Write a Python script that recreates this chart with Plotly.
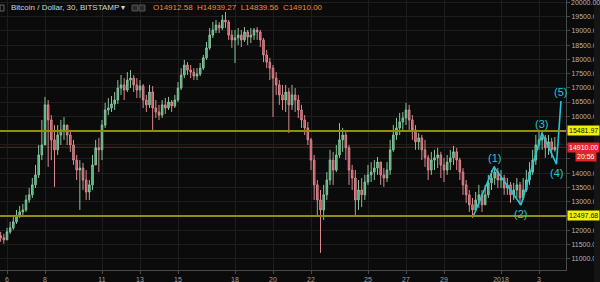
import plotly.graph_objects as go
import pandas as pd

# 4-hour candles (prices in USD)
start_time = "2017-12-05 16:00"
closes = [11730, 11660, 11940, 12080, 12290, 12530, 12640, 12710, 13060, 13240,
          13590, 13940, 14640, 14990, 16400, 15870, 15170, 14820, 15340, 15520,
          15690, 15340, 14990, 14460, 14110, 14180, 13760, 13340, 13590, 14290,
          14890, 14820, 15690, 16220, 16290, 16430, 16570, 16990, 17100, 16920,
          17270, 17340, 17100, 16920, 17060, 16570, 16400, 16850, 16290, 16150,
          16040, 16400, 16290, 16500, 16360, 16570, 16990, 17450, 17800, 17620,
          17550, 17410, 17480, 17690, 18050, 18400, 18850, 19030, 19200, 19100,
          19380, 19310, 18850, 18680, 18750, 18850, 18680, 18960, 18780, 18850,
          19030, 18960, 18680, 18150, 17900, 17690, 17340, 17100, 16750, 16570,
          16850, 16400, 16750, 16570, 16220, 15870, 15590, 15170, 14460, 13590,
          13060, 12710, 13240, 13760, 14460, 14110, 14640, 15170, 15340, 14890,
          14110, 13830, 13060, 13410, 13240, 13690, 13940, 14040, 14180, 14390,
          13940, 13830, 14110, 14820, 15340, 15590, 15800, 15940, 16220, 15870,
          15520, 15100, 15240, 14820, 14540, 14110, 14460, 14540, 14640, 14290,
          14110, 14390, 14540, 14750, 14460, 14040, 13590, 13240, 12890, 12710,
          13060, 13240, 12890, 13240, 13660, 13830, 14040, 13760, 13830, 13480,
          13590, 13240, 13410, 13590, 13130, 13410, 13760, 14040, 14460, 14990,
          15170, 15240, 14890, 15100, 14820, 14910]
highs = [11940, 11870, 12080, 12290, 12460, 12710, 12850, 12920, 13240, 13480,
         13830, 14290, 14990, 15870, 16680, 16570, 16040, 15690, 15690, 15870,
         15970, 15690, 15520, 15170, 14640, 14460, 14360, 14110, 13760, 14640,
         15170, 15240, 15870, 16470, 16640, 16710, 16850, 17270, 17450, 17340,
         17550, 17620, 17450, 17340, 17270, 17130, 16750, 17100, 17060, 16570,
         16400, 16570, 16640, 16680, 16570, 16750, 17200, 17690, 17980, 17900,
         17800, 17690, 17690, 17870, 18150, 18610, 19100, 19310, 19380, 19310,
         19560, 19660, 19380, 19030, 19030, 19100, 19030, 19130, 19030, 19100,
         19100, 19130, 19030, 18750, 18330, 18050, 17800, 17550, 17270, 17100,
         17100, 16990, 17100, 16990, 16750, 16400, 16040, 15800, 15240, 14640,
         13760, 13410, 13590, 14040, 14820, 14750, 14990, 15760, 15590, 15520,
         14990, 14290, 14110, 13760, 13830, 13940, 14290, 14390, 14460, 14570,
         14390, 14180, 14390, 15170, 15690, 15940, 16120, 16150, 16470, 16400,
         16040, 15690, 15410, 15340, 15170, 14640, 14750, 14820, 14890, 14750,
         14540, 14640, 14820, 14960, 14890, 14540, 14180, 13760, 13410, 13130,
         13340, 13590, 13410, 13590, 13940, 14110, 14250, 14180, 14110, 13940,
         13830, 13690, 13660, 13830, 13690, 13830, 14110, 14390, 14820, 15340,
         15450, 15450, 15340, 15340, 15240, 15270]
lows = [11590, 11520, 11660, 11870, 12010, 12220, 12430, 12460, 12640, 12960,
        13130, 13480, 13830, 14460, 15170, 14220, 14460, 13520, 14640, 14990,
        15170, 14990, 14750, 14290, 13760, 12710, 13410, 13060, 13060, 13410,
        14290, 14040, 14460, 15590, 16040, 16150, 16220, 16430, 16750, 16570,
        16850, 16990, 16850, 16640, 16640, 16290, 16150, 16290, 15520, 15940,
        15870, 15940, 16080, 16220, 16150, 16290, 16500, 16920, 17340, 17450,
        17340, 17270, 17270, 17410, 17620, 17980, 18330, 18750, 18920, 18920,
        19030, 19100, 18680, 18400, 17870, 18500, 18430, 18610, 18500, 18570,
        18680, 18680, 18430, 17900, 17690, 17270, 15970, 16750, 16400, 16220,
        16150, 15410, 16220, 16150, 15940, 15590, 15340, 14990, 14110, 13060,
        12530, 11200, 12360, 13060, 13590, 13590, 14040, 14540, 14750, 14460,
        13590, 13410, 12530, 12710, 12810, 13060, 13590, 13690, 13760, 13940,
        13590, 13520, 13690, 13940, 14750, 15170, 15340, 15520, 15690, 15520,
        15170, 14820, 14820, 14460, 14220, 13760, 13940, 14110, 14180, 13830,
        13690, 13940, 14110, 14290, 14110, 13760, 13240, 12960, 12640, 12430,
        12640, 12780, 12640, 12890, 13130, 13410, 13590, 13480, 13480, 13240,
        13240, 12960, 13060, 13130, 12890, 13060, 13340, 13590, 13940, 14290,
        14820, 14820, 14540, 14640, 14540, 14750]
first_open = 11800

# Elliott wave drawing (time, price)
wave_times = ["2017-12-30 12:30", "2017-12-31 15:10", "2018-01-02 01:15",
              "2018-01-03 03:45", "2018-01-03 22:05", "2018-01-04 03:45"]
wave_prices = [12463, 14220, 12885, 15410, 14320, 16535]
wave_labels = ["", "(1)", "(2)", "(3)", "(4)", "(5)"]

# Horizontal levels
level_prices = [15481.97, 12497.68]
last_price = 14910.00
countdown = "20:56"

# Axis ticks
tick_dates = ["2017-12-06", "2017-12-08", "2017-12-11", "2017-12-13", "2017-12-15",
              "2017-12-18", "2017-12-20", "2017-12-22", "2017-12-25", "2017-12-27",
              "2017-12-29", "2018-01-01", "2018-01-03"]
tick_text = ["6", "8", "11", "13", "15", "18", "20", "22", "25", "27", "29", "2018", "3"]
price_ticks = [19500, 19000, 18500, 18000, 17500, 17000, 16500, 16000,
               14000, 13500, 13000, 12000, 11500, 11000]
top_tick = 20000

times = pd.date_range(start_time, periods=len(closes), freq="4h")
opens = [first_open] + closes[:-1]

BG = "#0b0b0b"
GRID = "#1e1e1e"
FONT = "Liberation Sans"

fig = go.Figure()
fig.add_trace(go.Candlestick(
    x=times, open=opens, high=highs, low=lows, close=closes,
    increasing=dict(line=dict(color="#86c49d", width=1), fillcolor="#3fae6e"),
    decreasing=dict(line=dict(color="#d98a8f", width=1), fillcolor="#d4434f"),
    whiskerwidth=0, showlegend=False, hoverinfo="skip",
))
fig.add_trace(go.Scatter(
    x=wave_times, y=wave_prices, mode="lines",
    line=dict(color="#22c6d8", width=1.6), showlegend=False, hoverinfo="skip",
))

shapes = []
shapes.append(dict(type="line", xref="paper", x0=0, x1=1, yref="y", y0=last_price, y1=last_price,
                   line=dict(color="#7a1a1a", width=1), layer="below"))
for lp in level_prices:
    shapes.append(dict(type="line", xref="paper", x0=0, x1=1, yref="y", y0=lp, y1=lp,
                       line=dict(color="#928d12", width=2), layer="above"))
# header icons
for x0 in (132, 139):
    shapes.append(dict(type="rect", xref="paper", yref="paper",
                       x0=x0 / 566, x1=(x0 + 6) / 566, y0=1 - 11 / 270, y1=1 - 5 / 270,
                       line=dict(color="#555555", width=1), fillcolor="#2a2a2a"))
shapes.append(dict(type="rect", xref="paper", yref="paper",
                   x0=0, x1=4 / 566, y0=1 - 11 / 270, y1=1 - 5 / 270,
                   line=dict(color="#666666", width=1)))
# right edge strip
shapes.append(dict(type="rect", xref="paper", yref="paper",
                   x0=594 / 566, x1=600 / 566, y0=-12 / 270, y1=1,
                   line=dict(width=0), fillcolor="#151515"))

ann = []
for t, p, lab in zip(wave_times, wave_prices, wave_labels):
    if not lab:
        continue
    up = lab in ("(1)", "(3)", "(5)")
    ann.append(dict(x=t, y=p, xref="x", yref="y", text=lab, showarrow=False,
                    yanchor="bottom" if up else "top", yshift=1 if up else -1,
                    font=dict(color="#22c6d8", size=11, family=FONT)))
for lp in level_prices:
    ann.append(dict(xref="paper", x=1, xanchor="left", xshift=1, yref="y", y=lp,
                    text=f"{lp:.2f}", showarrow=False, bgcolor="#f2f200",
                    font=dict(color="#111111", size=7, family=FONT), borderpad=1))
ann.append(dict(xref="paper", x=1, xanchor="left", xshift=1, yref="y", y=last_price,
                text=f"{last_price:.2f}", showarrow=False, bgcolor="#e0262a",
                font=dict(color="#ffffff", size=7, family=FONT), borderpad=1))
ann.append(dict(xref="paper", x=1, xanchor="left", xshift=9, yref="y", y=last_price, yshift=-9,
                text=countdown, showarrow=False, bgcolor="#e0262a",
                font=dict(color="#ffffff", size=7, family=FONT), borderpad=1))
ann.append(dict(xref="paper", x=1, xanchor="left", xshift=3, yref="y", y=top_tick,
                text=f"{top_tick:.2f}", showarrow=False,
                font=dict(color="#b4b4b4", size=7, family=FONT)))
ann.append(dict(xref="paper", yref="paper", x=9 / 566, y=1, xanchor="left", yanchor="top",
                yshift=-1, text="Bitcoin / Dollar, 30, BITSTAMP ▾", showarrow=False,
                font=dict(color="#d4d4d4", size=8, family=FONT)))
ann.append(dict(xref="paper", yref="paper", x=151 / 566, y=1, xanchor="left", yanchor="top",
                yshift=-1, text="O14912.58  H14939.27  L14839.56  C14910.00", showarrow=False,
                font=dict(color="#ee8a3a", size=8, family=FONT)))

fig.update_layout(
    width=600, height=282,
    margin=dict(l=0, r=34, t=0, b=12),
    paper_bgcolor=BG, plot_bgcolor=BG,
    font=dict(family=FONT, color="#9a9a9a", size=7),
    shapes=shapes, annotations=ann,
    xaxis=dict(
        type="date", range=["2017-12-05 15:09", "2018-01-04 10:06"],
        tickvals=tick_dates, ticktext=tick_text,
        tickfont=dict(size=7, color="#a0a0a0"),
        showgrid=True, gridcolor=GRID, gridwidth=1,
        showline=True, linecolor="#4a4a4a", linewidth=1,
        ticks="outside", ticklen=3, tickcolor="#4a4a4a",
        rangeslider=dict(visible=False), zeroline=False,
    ),
    yaxis=dict(
        side="right", range=[10600, 20082],
        tickvals=price_ticks, tickformat=".2f", tickfont=dict(size=7, color="#b4b4b4"),
        showgrid=True, gridcolor=GRID, gridwidth=1,
        minor=dict(tick0=0, dtick=500, showgrid=True, gridcolor=GRID, ticks="outside",
                   ticklen=3, tickcolor="#4a4a4a"),
        showline=True, linecolor="#4a4a4a", linewidth=1,
        ticks="outside", ticklen=3, tickcolor="#4a4a4a", zeroline=False,
    ),
)

fig.write_html("out.html")
